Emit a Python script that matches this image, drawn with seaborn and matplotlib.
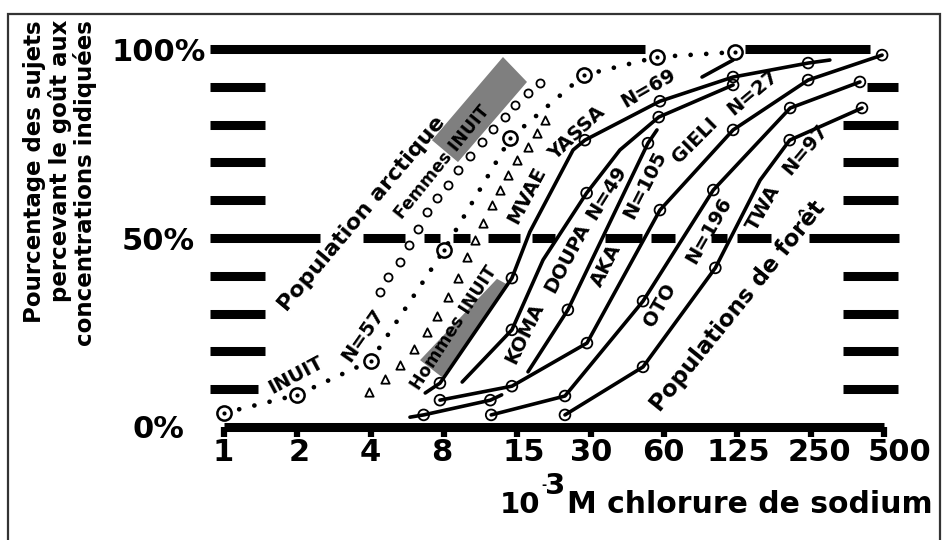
import numpy as np
import pandas as pd
import matplotlib
matplotlib.use("Agg")
import matplotlib.pyplot as plt
from matplotlib.patches import Polygon, Rectangle
from matplotlib.ticker import NullLocator
from matplotlib.transforms import ScaledTranslation
import seaborn as sns

# ------------------------------------------------------------------ data
x_tick_values = [1, 2, 4, 8, 16, 32, 64, 128, 256, 512]
x_tick_labels = ["1", "2", "4", "8", "15", "30", "60", "125", "250", "500"]
y_tick_values = [0, 50, 100]
y_tick_labels = ["0%", "50%", "100%"]

# Arctic population: INUIT N=57 (dotted curve, dotted-circle markers)
inuit_conc = [1, 2, 4, 8, 15, 30, 60, 125]
inuit_pct = [3.7, 8.5, 17.5, 46.8, 76.5, 93.1, 97.9, 99.2]

# Femmes INUIT (open circles)
femmes_conc = [4.37, 4.71, 5.28, 5.75, 6.26, 6.81, 7.49, 8.31, 9.13, 10.2,
               11.5, 12.7, 14.2, 15.7, 17.7, 19.8]
femmes_pct = [35.7, 39.7, 43.7, 48.1, 52.4, 56.9, 60.6, 64.0, 68.0, 71.7,
              75.4, 78.8, 82.0, 85.2, 88.4, 91.0]

# Hommes INUIT (open triangles)
hommes_conc = [3.94, 4.58, 5.28, 6.03, 6.81, 7.49, 8.31, 9.13, 9.95, 10.7,
               11.6, 12.6, 13.6, 14.7, 16.0, 17.7, 19.3, 20.8]
hommes_pct = [9.3, 12.7, 16.4, 20.6, 25.1, 29.4, 34.4, 39.4, 45.0, 49.5,
              54.0, 58.7, 62.7, 66.7, 70.6, 74.1, 77.8, 81.2]

# Forest populations (solid curves);
# *_mark: the point carries a ring marker
mvae_conc = [6.7, 7.7, 15.2, 18.0, 27.1, 30.3, 61.6, 123, 250, 307]
mvae_pct = [9.0, 11.6, 39.4, 51.6, 73.3, 75.9, 86.2, 92.6, 96.3, 97.1]
mvae_mark = [0, 1, 1, 0, 0, 1, 1, 1, 1, 0]

koma_conc = [9.5, 15.2, 20.4, 30.8, 42.2, 60.9, 123]
koma_pct = [11.9, 25.7, 44.2, 61.9, 73.3, 82.0, 90.5]
koma_mark = [0, 1, 0, 1, 0, 1, 1]

aka_conc = [5.8, 6.6, 12.4, 13.8, 17.7, 25.8, 55.0, 59.9]
aka_pct = [2.6, 3.2, 7.1, 8.5, 14.6, 31.0, 75.1, 78.6]
aka_mark = [0, 1, 1, 0, 0, 1, 1, 0]
aka_stroke = [0, 0, 0, 0, 1, 1, 1, 1]

gieli_conc = [7.7, 15.2, 30.9, 61.6, 123, 250, 503]
gieli_pct = [7.1, 10.8, 22.2, 57.4, 78.6, 91.8, 98.4]

oto_conc = [12.5, 25.1, 52.5, 102, 211, 408]
oto_pct = [3.2, 8.2, 33.3, 62.7, 84.4, 91.3]

twa_conc = [25.1, 52.5, 104, 158.7, 210, 416]
twa_pct = [3.2, 15.9, 42.1, 65.3, 75.9, 84.4]
twa_mark = [1, 1, 1, 0, 1, 1]

stub_conc = [91.7, 123]
stub_pct = [92.6, 97.1]

# reference bars (decile marks, 50 % and 100 % lines), in concentration units
decile_levels = [10, 20, 30, 40, 60, 70, 80, 90]
left_bar_start = 0.876
left_bar_ends = [1.379, 1.474, 1.474, 1.474, 1.474, 1.474, 1.474, 1.474]
right_bar_starts = [347.6, 347.6, 347.6, 347.6, 347.6, 347.6, 347.6, 436.0]
right_bar_end = 584.6
top_segments = [(0.876, 53.5), (137.7, 448.5)]
half_segments = [(0.876, 2.478), (3.721, 5.534), (6.623, 7.705), (8.71, 10.23),
                 (12.13, 16.41), (18.38, 22.85), (36.65, 51.99), (56.6, 71.0),
                 (99.8, 116.1), (127.6, 176.0), (252.1, 590.3)]

# grey highlight boxes
femmes_box = [(7.14, 75.9), (13.97, 97.9), (17.53, 91.3), (9.13, 70.1)]
hommes_box = [(6.38, 17.7), (13.2, 39.2), (14.65, 37.6), (7.85, 13.2)]

# curve labels
lab_text = ["INUIT", "N=57", "MVAE", "YASSA", "N=69", "KOMA", "DOUPA", "N=49",
            "AKA", "N=105", "GIELI", "N=27", "OTO", "N=196", "TWA", "N=97"]
lab_conc = [1.975, 3.72, 17.5, 28.1, 55.0, 17.2, 25.6, 37.3,
            37.0, 53.5, 85.8, 148.5, 61.6, 98.0, 163.2, 242.7]
lab_pct = [13.8, 24.3, 61.4, 77.8, 89.7, 24.9, 44.7, 61.9,
           42.9, 64.0, 75.9, 88.4, 32.3, 52.1, 57.9, 73.3]
lab_rot = [28, 55, 62, 43, 30, 64, 62, 58, 63, 63, 45, 40, 60, 60, 60, 50]

big_text = ["Population arctique", "Femmes INUIT", "Hommes INUIT", "Populations de forêt"]
big_conc = [3.69, 7.85, 8.79, 128.8]
big_pct = [56.5, 70.1, 26.2, 32.0]
big_rot = [50, 51, 57, 51]
big_size = [16, 12.4, 12.4, 16.5]

# horizontal nudge of the tick labels as typeset in the original (pixels)
x_label_nudge = [-1, 2, 0, -2, 6, 1, -1, 1, 9, 16]

# ------------------------------------------------------------------ frames
rows = []
def add_curve(name, conc, pct, mark=None, stroke=None):
    n = len(conc)
    mark = mark if mark is not None else [1] * n
    stroke = stroke if stroke is not None else [0] * n
    for c, p, m, s in zip(conc, pct, mark, stroke):
        rows.append(dict(series=name, unit=f"{name}-{s}", conc=c, pct=p, mark=bool(m)))

add_curve("MVAE YASSA", mvae_conc, mvae_pct, mvae_mark)
add_curve("KOMA DOUPA", koma_conc, koma_pct, koma_mark)
add_curve("AKA", aka_conc, aka_pct, aka_mark, aka_stroke)
add_curve("GIELI", gieli_conc, gieli_pct)
add_curve("OTO", oto_conc, oto_pct)
add_curve("TWA", twa_conc, twa_pct, twa_mark)
add_curve("trait", stub_conc, stub_pct, [0, 0])
forest = pd.DataFrame(rows)

inuit = pd.DataFrame(dict(conc=inuit_conc, pct=inuit_pct))
femmes = pd.DataFrame(dict(conc=femmes_conc, pct=femmes_pct))
hommes = pd.DataFrame(dict(conc=hommes_conc, pct=hommes_pct))

# ------------------------------------------------------------------ style
sns.set_theme(style="white")
plt.rcParams["font.family"] = ["DejaVu Sans"]
plt.rcParams["text.color"] = "black"
plt.rcParams["xtick.color"] = "black"
plt.rcParams["ytick.color"] = "black"
plt.rcParams["xtick.labelcolor"] = "black"
plt.rcParams["ytick.labelcolor"] = "black"

W, H = 947, 540
fig = plt.figure(figsize=(W / 100, H / 100), dpi=100)
ax = fig.add_axes([200 / W, (H - 427) / H, 710 / W, (427 - 40) / H])
ax.set_xscale("log", base=2)
ax.set_xlim(0.797, 654.8)
ax.set_ylim(0, 102.4)

# grey boxes
for box in (femmes_box, hommes_box):
    ax.add_patch(Polygon(box, closed=True, facecolor="#7f7f7f", edgecolor="none", zorder=1))

# reference bars
bar_kw = dict(colors="black", linewidth=6.5, capstyle="butt", zorder=2)
ax.hlines(decile_levels, left_bar_start, left_bar_ends, **bar_kw)
ax.hlines(decile_levels, right_bar_starts, right_bar_end, **bar_kw)
for a, b in top_segments:
    ax.hlines(100, a, b, **bar_kw)
for a, b in half_segments:
    ax.hlines(50, a, b, **bar_kw)

# forest curves
sns.lineplot(data=forest, x="conc", y="pct", units="unit", estimator=None, sort=False,
             color="black", linewidth=2.6, legend=False, ax=ax, zorder=4)
sns.scatterplot(data=forest[forest["mark"]], x="conc", y="pct", marker="o", s=60,
                facecolors="none", edgecolor="black", linewidth=1.3, legend=False,
                ax=ax, zorder=5)

# INUIT dotted curve
sns.lineplot(data=inuit, x="conc", y="pct", estimator=None, sort=False, color="black",
             linewidth=3.4, linestyle=(0, (0.01, 3.3)), dash_capstyle="round",
             legend=False, ax=ax, zorder=4)
sns.scatterplot(data=inuit, x="conc", y="pct", marker="o", s=105, facecolor="white",
                edgecolor="black", linewidth=1.8, legend=False, ax=ax, zorder=5)
sns.scatterplot(data=inuit, x="conc", y="pct", marker="o", s=9, color="black",
                edgecolor="black", linewidth=0, legend=False, ax=ax, zorder=6)

# Femmes / Hommes INUIT
sns.scatterplot(data=femmes, x="conc", y="pct", marker="o", s=34, facecolor="white",
                edgecolor="black", linewidth=1.3, legend=False, ax=ax, zorder=5)
sns.scatterplot(data=hommes, x="conc", y="pct", marker="^", s=36, facecolor="white",
                edgecolor="black", linewidth=1.3, legend=False, ax=ax, zorder=5)

# labels
for t, c, p, r in zip(lab_text, lab_conc, lab_pct, lab_rot):
    ax.text(c, p, t, rotation=r, rotation_mode="anchor", ha="center", va="center",
            fontsize=14, fontweight="bold", color="black", zorder=7)
for t, c, p, r, s in zip(big_text, big_conc, big_pct, big_rot, big_size):
    ax.text(c, p, t, rotation=r, rotation_mode="anchor", ha="center", va="center",
            fontsize=s, fontweight="bold", color="black", zorder=7)

# axes
for side in ("left", "right", "top"):
    ax.spines[side].set_visible(False)
ax.spines["bottom"].set_linewidth(6.5)
ax.spines["bottom"].set_color("black")
ax.spines["bottom"].set_bounds(1, 512)
ax.spines["bottom"].set_capstyle("butt")
ax.xaxis.set_minor_locator(NullLocator())
ax.set_xticks(x_tick_values)
ax.set_xticklabels(x_tick_labels, fontsize=22, fontweight="bold", color="black")
ax.tick_params(axis="x", direction="out", length=7, width=4.5, color="black", pad=1,
               bottom=True)
for lab, dx in zip(ax.get_xticklabels(), x_label_nudge):
    lab.set_transform(lab.get_transform() + ScaledTranslation(dx / 100, 0, fig.dpi_scale_trans))
ax.set_yticks(y_tick_values)
ax.set_yticklabels(y_tick_labels, fontsize=22, fontweight="bold", color="black")
for lab in ax.get_yticklabels():
    lab.set_horizontalalignment("center")
ax.tick_params(axis="y", length=0, pad=30)
ax.set_xlabel("")
ax.set_ylabel("")
ax.grid(False)

# x axis title: 10^-3 M chlorure de sodium
fig.text(500 / W, 1 - 513 / H, "10", va="baseline", ha="left", fontsize=21,
         fontweight="bold")
fig.text(541 / W, 1 - 489 / H, "-", va="baseline", ha="left", fontsize=9,
         fontweight="bold")
fig.text(545 / W, 1 - 494 / H, "3", va="baseline", ha="left", fontsize=21,
         fontweight="bold")
fig.text(567 / W, 1 - 513 / H, "M chlorure de sodium", va="baseline", ha="left",
         fontsize=21.5, fontweight="bold")

# y axis title
fig.text(60 / W, 1 - 20 / H,
         "Pourcentage des sujets\npercevant le goût aux\nconcentrations indiquées",
         rotation=90, ha="center", va="top", multialignment="right", fontsize=16.5,
         fontweight="bold", linespacing=1.1)

# frame
fig.patches.append(Rectangle((8 / W, -0.02), (940 - 8) / W, (H - 14) / H + 0.02,
                             transform=fig.transFigure, fill=False, lw=1.6,
                             edgecolor="#333333"))

fig.savefig("out.png", dpi=100)
